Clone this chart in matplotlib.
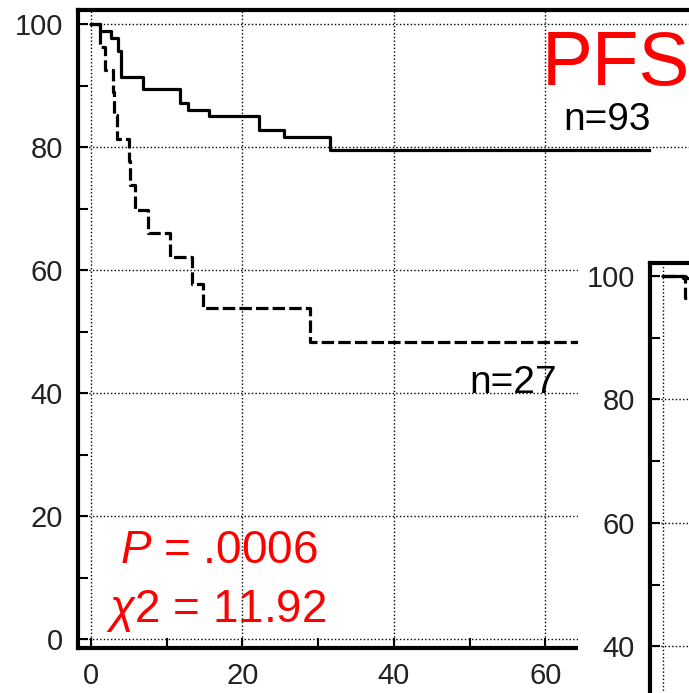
import matplotlib
matplotlib.use("Agg")
import matplotlib.pyplot as plt
from matplotlib.patches import Rectangle
from matplotlib.ticker import MultipleLocator

plt.rcParams['font.family'] = ['Liberation Sans', 'DejaVu Sans']
plt.rcParams['mathtext.fontset'] = 'custom'
plt.rcParams['mathtext.rm'] = 'Liberation Sans'
plt.rcParams['mathtext.it'] = 'Liberation Sans:italic'

# Kaplan-Meier steps (months, % free of progression)
solid_t = [0, 1.2, 2.6, 3.6, 4.0, 6.9, 11.7, 12.8, 15.6, 22.2, 25.5, 31.5, 73.7]
solid_s = [100, 98.9, 97.8, 95.7, 91.4, 89.4, 87.1, 86.1, 85.1, 82.8, 81.6, 79.6, 79.6]

dashed_t = [0, 1.2, 1.8, 2.9, 3.1, 3.4, 5.0, 5.2, 5.8, 7.6, 10.4, 13.3, 14.8, 28.9, 70]
dashed_s = [100, 96.3, 92.6, 88.9, 85.2, 81.4, 77.8, 73.8, 69.8, 66.0, 62.2, 57.8, 53.8, 48.3, 48.3]

# second panel (only its corner is visible)
inset_solid_t = [0, 2.6, 5]
inset_solid_s = [100, 99.6, 99.6]
inset_dashed_t = [0, 2.9, 5]
inset_dashed_s = [100, 96.5, 96.5]

x_ticks = [0, 20, 40, 60]
y_ticks = [0, 20, 40, 60, 80, 100]
inset_y_ticks = [40, 60, 80, 100]

W, H = 689, 693
fig = plt.figure(figsize=(W / 100, H / 100), dpi=100)


def px_box(left, top, right, bottom):
    return [left / W, 1 - bottom / H, (right - left) / W, (bottom - top) / H]


def style_axes(ax, yticks):
    ax.set_xticks(x_ticks)
    ax.set_yticks(yticks)
    ax.xaxis.set_minor_locator(MultipleLocator(10))
    ax.yaxis.set_minor_locator(MultipleLocator(10))
    ax.tick_params(which='both', direction='in', length=7, width=1.5,
                   top=False, right=False, colors='black')
    ax.tick_params(axis='y', pad=11, labelsize=21, labelcolor='#222222')
    ax.tick_params(axis='x', pad=10, labelsize=21, labelcolor='#222222')
    ax.grid(True, which='major', color='black', linestyle=(0, (1, 1.6)), linewidth=1)
    for s in ax.spines.values():
        s.set_linewidth(3)


ax = fig.add_axes(px_box(78, 10, 697, 648))
ax.set_xlim(-1.7, 80)
ax.set_ylim(-1.45, 102.3)
style_axes(ax, y_ticks)
ax.step(solid_t, solid_s, where='post', color='black', lw=2.3)
ax.step(dashed_t, dashed_s, where='post', color='black', lw=2.3, dashes=(3.9, 1.3))

ax.text(59.5, 90.1, "PFS", color='red', fontsize=55)
ax.text(62.3, 82.8, "n=93", color='black', fontsize=28)
ax.text(50.0, 40.0, "n=27", color='black', fontsize=28)
ax.text(3.8, 12.4, "$P$ = .0006", color='red', fontsize=33)
ax.text(2.0, 2.8, r"$\chi$2 = 11.92", color='red', fontsize=33)

# white backing of the second panel, covering the right end of the first one
fig.add_artist(Rectangle((578 / W, 0), 1, 1 - 255 / H, transform=fig.transFigure,
                         facecolor='white', edgecolor='none', zorder=1))

# second panel: same scale, only its top-left corner falls inside the picture
ax2 = fig.add_axes(px_box(650, 263, 1118, 708))
ax2.set_zorder(2)
ax2.set_xlim(-1.7, 60)
ax2.set_ylim(30, 102.1)
style_axes(ax2, inset_y_ticks)
ax2.tick_params(axis='x', labelbottom=False)
ax2.step(inset_solid_t, inset_solid_s, where='post', color='black', lw=2.3)
ax2.step(inset_dashed_t, inset_dashed_s, where='post', color='black', lw=2.3, dashes=(3.9, 1.3))

fig.savefig("out.png", dpi=100)
